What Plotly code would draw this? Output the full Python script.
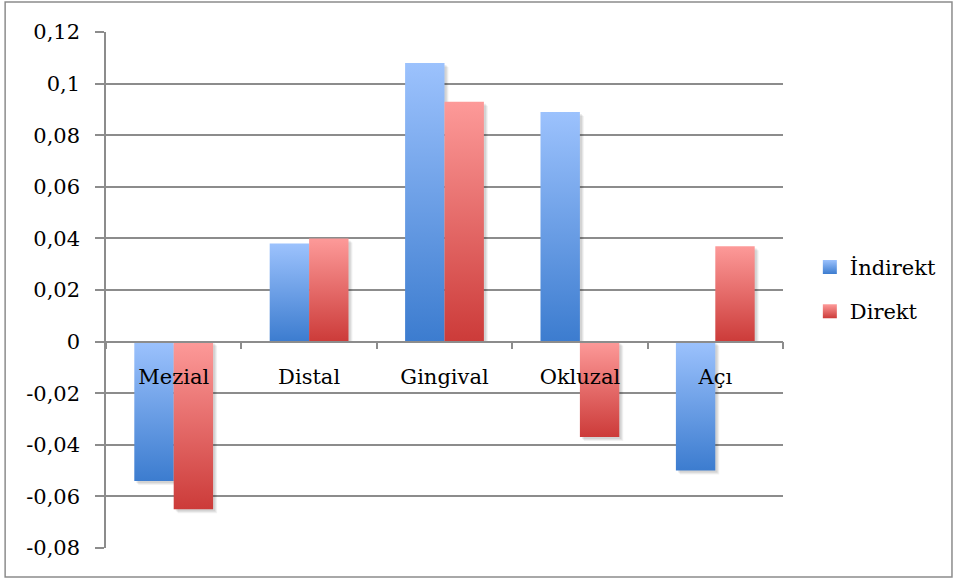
import plotly.graph_objects as go

# Data
categories = ["Mezial", "Distal", "Gingival", "Okluzal", "Açı"]
indirekt = [-0.054, 0.038, 0.108, 0.089, -0.050]
direkt = [-0.065, 0.040, 0.093, -0.037, 0.037]

y_tick_values = [-0.08, -0.06, -0.04, -0.02, 0.0, 0.02, 0.04, 0.06, 0.08, 0.10, 0.12]
y_tick_labels = ["-0,08", "-0,06", "-0,04", "-0,02", "0", "0,02", "0,04",
                 "0,06", "0,08", "0,1", "0,12"]

# Series styling: name, values, top (light) colour, bottom (dark) colour, side
series = [
    ("İndirekt", indirekt, "#9cc2fd", "#3c7ccf", -1),
    ("Direkt", direkt, "#fd9a99", "#cc3b39", 0),
]

BAR_W = 0.291          # bar width in category units
Y_MIN, Y_MAX = -0.08, 0.12
FONT = "DejaVu Serif"
GRID = "#8c8c8c"

# Plot-area geometry (pixels) used for the soft drop shadow offsets
PLOT_W, PLOT_H = 677, 516
PX_X = len(categories) / PLOT_W
PX_Y = (Y_MAX - Y_MIN) / PLOT_H

fig = go.Figure()


def rect(x0, x1, y0, y1):
    return [x0, x1, x1, x0, x0], [y0, y0, y1, y1, y0]


# Soft drop shadows behind the bars (a few stacked translucent layers)
shadow_layers = [(4, 4, 0.05), (3, 3, 0.06), (2, 2, 0.07)]
for name, values, light, dark, side in series:
    for i, v in enumerate(values):
        x0 = i + side * BAR_W
        x1 = x0 + BAR_W
        for dx, dy, a in shadow_layers:
            xs, ys = rect(x0 + dx * PX_X, x1 + dx * PX_X,
                          0 - dy * PX_Y if v < 0 else 0,
                          v - dy * PX_Y)
            fig.add_trace(go.Scatter(
                x=xs, y=ys, mode="lines", fill="toself",
                fillcolor=f"rgba(0,0,0,{a})",
                line=dict(width=0, color="rgba(0,0,0,0)"),
                hoverinfo="skip", showlegend=False,
            ))

# Each bar is a filled rectangle so it can carry a vertical gradient
for name, values, light, dark, side in series:
    for i, v in enumerate(values):
        x0 = i + side * BAR_W
        x1 = x0 + BAR_W
        xs, ys = rect(x0, x1, 0, v)
        fig.add_trace(go.Scatter(
            x=xs, y=ys,
            mode="lines",
            fill="toself",
            fillgradient=dict(type="vertical",
                              colorscale=[[0, dark], [1, light]]),
            line=dict(width=0, color="rgba(0,0,0,0)"),
            hoverinfo="skip",
            showlegend=False,
        ))

# Legend entries
for name, values, light, dark, side in series:
    fig.add_trace(go.Scatter(
        x=[None], y=[None],
        mode="markers",
        name=name,
        legendgroup=name,
        marker=dict(symbol="square", size=14, color=light,
                    gradient=dict(type="vertical", color=dark),
                    line=dict(width=0)),
    ))

fig.update_layout(
    width=955, height=581,
    margin=dict(l=106, r=172, t=32, b=33),
    paper_bgcolor="white",
    plot_bgcolor="white",
    font=dict(family=FONT, size=21, color="black"),
    showlegend=True,
    legend=dict(
        xref="container", yref="container",
        x=0.848, y=0.502, xanchor="left", yanchor="middle",
        traceorder="grouped", tracegroupgap=14,
        font=dict(family=FONT, size=21, color="black"),
        bgcolor="rgba(0,0,0,0)",
        itemwidth=30,
    ),
    xaxis=dict(
        range=[-0.5, len(categories) - 0.5],
        tickmode="array",
        tickvals=list(range(len(categories))),
        ticktext=categories,
        ticks="",
        showgrid=False,
        zeroline=False,
        showline=True,
        linecolor=GRID,
        linewidth=1.5,
        anchor="free",
        position=(0 - Y_MIN) / (Y_MAX - Y_MIN),
        ticklabelstandoff=16,
        tickfont=dict(family=FONT, size=21, color="black"),
        minor=dict(tickmode="linear", tick0=-0.5, dtick=1,
                   ticks="outside", ticklen=7, tickwidth=1.5,
                   tickcolor=GRID, showgrid=False),
        layer="above traces",
    ),
    yaxis=dict(
        range=[Y_MIN, Y_MAX],
        tickmode="array",
        tickvals=y_tick_values,
        ticktext=y_tick_labels,
        ticks="outside",
        ticklen=9,
        tickwidth=1.5,
        tickcolor=GRID,
        showgrid=True,
        gridcolor=GRID,
        gridwidth=1.5,
        zeroline=False,
        showline=True,
        linecolor=GRID,
        linewidth=1.5,
        ticklabelstandoff=11,
        tickfont=dict(family=FONT, size=21, color="black"),
    ),
)

# Outer chart border
fig.add_shape(
    type="rect", xref="paper", yref="paper",
    x0=-0.149, x1=1.2496, y0=-0.0562, y1=1.058,
    line=dict(color=GRID, width=1.5),
    fillcolor="rgba(0,0,0,0)",
    layer="below",
)

fig.write_html("out.html")
